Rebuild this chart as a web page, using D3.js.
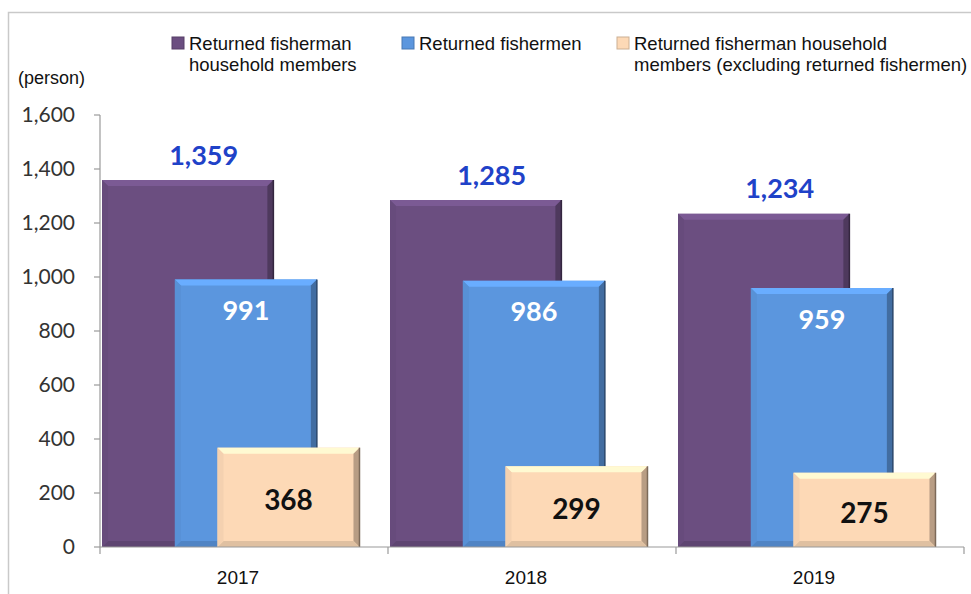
<!DOCTYPE html>
<html>
<head>
<meta charset="utf-8">
<script src="https://cdn.jsdelivr.net/npm/d3@7"></script>
<style>
  body { margin: 0; background: #fff; }
  svg { display: block; }
</style>
</head>
<body>
<svg id="chart"></svg>
<script>
// Data
const years = ["2017", "2018", "2019"];
const householdMembers = [1359, 1285, 1234];
const fishermen = [991, 986, 959];
const excludingFishermen = [368, 299, 275];
const yTicks = [0, 200, 400, 600, 800, 1000, 1200, 1400, 1600];
const legendLabels = [
  ["Returned fisherman", "household members"],
  ["Returned fishermen"],
  ["Returned fisherman household", "members (excluding returned fishermen)"]
];

const W = 971, H = 594;
const svg = d3.select("#chart").attr("width", W).attr("height", H);

// frame
svg.append("rect")
  .attr("x", 8.5).attr("y", 12.5)
  .attr("width", 1000).attr("height", 600)
  .attr("fill", "none").attr("stroke", "#c9c9c9").attr("stroke-width", 1.5);

const x0 = 100, x1 = 964, yBottom = 547, yTop = 115;

const x = d3.scaleBand().domain(years).range([x0, x1]).padding(0);
const y = d3.scaleLinear().domain([0, 1600]).range([yBottom, yTop]);

const bw = x.bandwidth();
// bar layout inside each band (fractions of band width)
const series = [
  { name: "members", values: householdMembers, off: 0.007, w: 0.595, color: "#6b4e80" },
  { name: "fishermen", values: fishermen, off: 0.26, w: 0.493, color: "#5b96de" },
  { name: "excl", values: excludingFishermen, off: 0.408, w: 0.493, color: "#fdd9b6" }
];

// y axis
const yAxis = svg.append("g");
yAxis.append("line")
  .attr("x1", x0).attr("x2", x0).attr("y1", y(1600)).attr("y2", yBottom)
  .attr("stroke", "#9a9a9a").attr("stroke-width", 1.2);
yAxis.selectAll("line.tick").data(yTicks).enter().append("line")
  .attr("class", "tick")
  .attr("x1", x0 - 6).attr("x2", x0)
  .attr("y1", d => y(d)).attr("y2", d => y(d))
  .attr("stroke", "#9a9a9a").attr("stroke-width", 1.2);
yAxis.selectAll("text").data(yTicks).enter().append("text")
  .attr("x", 75).attr("y", d => y(d))
  .attr("dy", "0.35em")
  .attr("text-anchor", "end")
  .attr("font-family", "Lato, 'Open Sans', sans-serif")
  .attr("font-size", 21)
  .attr("fill", "#333")
  .text(d => d3.format(",")(d));

svg.append("text")
  .attr("x", 18).attr("y", 84)
  .attr("font-family", "'Liberation Sans', Arial, sans-serif")
  .attr("font-size", 18)
  .attr("fill", "#111")
  .text("(person)");

// bars with bevel
function bevelBar(g, bx, by, w, h, color) {
  const b = Math.min(6, h / 2);
  g.append("rect").attr("x", bx).attr("y", by).attr("width", w).attr("height", h).attr("fill", color);
  const c = d3.color(color);
  // top light
  g.append("polygon")
    .attr("points", [[bx, by], [bx + w, by], [bx + w - b, by + b], [bx + b, by + b]].join(" "))
    .attr("fill", c.brighter(0.4));
  // right dark
  g.append("polygon")
    .attr("points", [[bx + w, by], [bx + w, by + h], [bx + w - b, by + h - b], [bx + w - b, by + b]].join(" "))
    .attr("fill", c.darker(0.9));
  // bottom dark
  g.append("polygon")
    .attr("points", [[bx, by + h], [bx + w, by + h], [bx + w - b, by + h - b], [bx + b, by + h - b]].join(" "))
    .attr("fill", c.darker(0.35));
  // left
  g.append("polygon")
    .attr("points", [[bx, by], [bx + b, by + b], [bx + b, by + h - b], [bx, by + h]].join(" "))
    .attr("fill", c.darker(0.1));
  // outline on right
  g.append("line")
    .attr("x1", bx + w).attr("x2", bx + w).attr("y1", by).attr("y2", by + h)
    .attr("stroke", c.darker(2)).attr("stroke-width", 1.5);
}

series.forEach(s => {
  const g = svg.append("g");
  years.forEach((yr, i) => {
    const bx = x(yr) + s.off * bw;
    const by = y(s.values[i]);
    bevelBar(g, bx, by, s.w * bw, yBottom - by, s.color);
  });
});

// x axis
svg.append("line")
  .attr("x1", x0).attr("x2", x1).attr("y1", yBottom).attr("y2", yBottom)
  .attr("stroke", "#9a9a9a").attr("stroke-width", 1.2);
svg.selectAll("line.xtick").data(years.map(d => x(d)).concat([x1])).enter().append("line")
  .attr("class", "xtick")
  .attr("x1", d => d).attr("x2", d => d)
  .attr("y1", yBottom).attr("y2", yBottom + 7)
  .attr("stroke", "#9a9a9a").attr("stroke-width", 1.2);
svg.selectAll("text.year").data(years).enter().append("text")
  .attr("class", "year")
  .attr("x", d => x(d) + bw / 2 - 6)
  .attr("y", 584)
  .attr("text-anchor", "middle")
  .attr("font-family", "'Liberation Sans', Arial, sans-serif")
  .attr("font-size", 19)
  .attr("fill", "#111")
  .text(d => d);

// value labels
const labelFont = "Lato, 'Open Sans', sans-serif";
svg.selectAll("text.v0").data(householdMembers).enter().append("text")
  .attr("x", (d, i) => x(years[i]) + (series[0].off + series[0].w / 2) * bw + 16)
  .attr("y", d => y(d) - 25)
  .attr("dy", "0.35em")
  .attr("text-anchor", "middle")
  .attr("font-family", labelFont).attr("font-weight", "bold").attr("font-size", 27)
  .attr("fill", "#1f42c8")
  .text(d => d3.format(",")(d));

svg.selectAll("text.v1").data(fishermen).enter().append("text")
  .attr("x", (d, i) => x(years[i]) + (series[1].off + series[1].w / 2) * bw)
  .attr("y", d => y(d) + 31)
  .attr("dy", "0.35em")
  .attr("text-anchor", "middle")
  .attr("font-family", labelFont).attr("font-weight", "bold").attr("font-size", 27)
  .attr("fill", "#fff")
  .text(d => d3.format(",")(d));

svg.selectAll("text.v2").data(excludingFishermen).enter().append("text")
  .attr("x", (d, i) => x(years[i]) + (series[2].off + series[2].w / 2) * bw)
  .attr("y", d => (y(d) + yBottom) / 2 + 3)
  .attr("dy", "0.35em")
  .attr("text-anchor", "middle")
  .attr("font-family", labelFont).attr("font-weight", "bold").attr("font-size", 28)
  .attr("fill", "#111")
  .text(d => d3.format(",")(d));

// legend
const legendX = [172, 402, 617];
legendLabels.forEach((lines, i) => {
  const g = svg.append("g").attr("transform", `translate(${legendX[i]},0)`);
  const c = d3.color(series[i].color);
  g.append("rect").attr("x", 0).attr("y", 37).attr("width", 12).attr("height", 12)
    .attr("fill", series[i].color).attr("stroke", c.darker(0.6)).attr("stroke-width", 1);
  lines.forEach((t, j) => {
    g.append("text")
      .attr("x", 17).attr("y", 50 + j * 21)
      .attr("font-family", "'Liberation Sans', Arial, sans-serif")
      .attr("font-size", 18.5)
      .attr("fill", "#111")
      .text(t);
  });
});
</script>
</body>
</html>
